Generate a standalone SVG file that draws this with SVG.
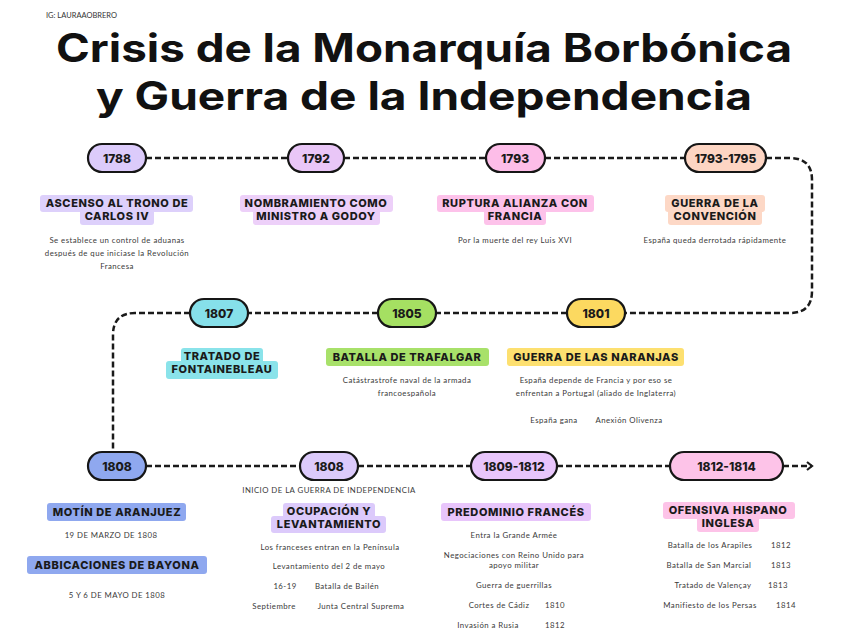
<svg xmlns="http://www.w3.org/2000/svg" width="848" height="636" viewBox="0 0 848 636">
<defs>
<marker id="arr" viewBox="0 0 10 10" refX="8" refY="5" markerWidth="10" markerHeight="10" markerUnits="userSpaceOnUse" orient="auto">
<polyline points="3,1 8,5 3,9" fill="none" stroke="#1a1a1a" stroke-width="2.2"/>
</marker>
<style>
.title{font-family:Inter,"Open Sans",sans-serif;font-weight:700;font-size:39px;fill:#111;text-anchor:middle}
.tag{font-family:Lato,"Open Sans",sans-serif;font-size:7.5px;fill:#333}
.pill{stroke:#161616;stroke-width:2.2}
.yr{font-family:Inter,"Open Sans",sans-serif;font-weight:800;font-size:12px;fill:#1a1a1a;text-anchor:middle}
.lbl{font-family:Inter,"Open Sans",sans-serif;font-weight:800;font-size:11px;letter-spacing:0.6px;fill:#1a1a1a;text-anchor:middle}
.d{font-family:Lato,"Open Sans",sans-serif;font-size:7.8px;letter-spacing:0.45px;fill:#3a3a3a;text-anchor:middle}
.ln{fill:none;stroke:#1a1a1a;stroke-width:2.5;stroke-dasharray:6 3}
</style>
</defs>
<rect width="848" height="636" fill="#fff"/>
<text class="tag" x="46" y="18">IG: LAURAAOBRERO</text>
<text class="title" x="424" y="62" textLength="736" lengthAdjust="spacingAndGlyphs">Crisis de la Monarquía Borbónica</text>
<text class="title" x="424" y="110" textLength="656" lengthAdjust="spacingAndGlyphs">y Guerra de la Independencia</text>

<g id="connectors">
<path class="ln" d="M146,158 H288 M344,158 H486 M545,158 H685 M766,158 H790 Q812,158 812,180 V291 Q812,313 790,313 H625 M567,313 H436 M378,313 H248 M190,313 H135 Q113,313 113,335 V452"/>
<path class="ln" d="M146,466 H300 M358,466 H471 M557,466 H670"/>
<path class="ln" d="M783,466 H812" marker-end="url(#arr)"/>
</g>

<g id="n1788">
<rect class="pill" x="88" y="144" width="58" height="28" rx="14" fill="#dccbfb"/>
<text class="yr" x="117" y="162.5">1788</text>
<rect x="40" y="195" width="153" height="17" rx="3" fill="#ddd0fb"/>
<rect x="80" y="208" width="74" height="17" rx="3" fill="#ddd0fb"/>
<text class="lbl" x="117" y="207">ASCENSO AL TRONO DE</text>
<text class="lbl" x="117" y="220">CARLOS IV</text>
<text class="d" x="117" y="243">Se establece un control de aduanas</text>
<text class="d" x="117" y="256">después de que iniciase la Revolución</text>
<text class="d" x="117" y="269">Francesa</text>
</g>

<g id="n1792">
<rect class="pill" x="288" y="144" width="56" height="28" rx="14" fill="#e9c6f7"/>
<text class="yr" x="316" y="162.5">1792</text>
<rect x="240" y="195" width="153" height="17" rx="3" fill="#edd0f9"/>
<rect x="253" y="208" width="127" height="17" rx="3" fill="#edd0f9"/>
<text class="lbl" x="316" y="207">NOMBRAMIENTO COMO</text>
<text class="lbl" x="316" y="220">MINISTRO A GODOY</text>
</g>

<g id="n1793">
<rect class="pill" x="486" y="144" width="59" height="28" rx="14" fill="#fdbde8"/>
<text class="yr" x="515" y="162.5">1793</text>
<rect x="437" y="195" width="157" height="17" rx="3" fill="#fdc2ea"/>
<rect x="484" y="208" width="62" height="17" rx="3" fill="#fdc2ea"/>
<text class="lbl" x="515" y="207">RUPTURA ALIANZA CON</text>
<text class="lbl" x="515" y="220">FRANCIA</text>
<text class="d" x="515" y="243">Por la muerte del rey Luis XVI</text>
</g>

<g id="n1793-1795">
<rect class="pill" x="685" y="144" width="81" height="28" rx="14" fill="#fdd5c3"/>
<text class="yr" x="725.5" y="162.5">1793-1795</text>
<rect x="665" y="195" width="100" height="17" rx="3" fill="#fdd8c6"/>
<rect x="668" y="208" width="94" height="17" rx="3" fill="#fdd8c6"/>
<text class="lbl" x="715" y="207">GUERRA DE LA</text>
<text class="lbl" x="715" y="220">CONVENCIÓN</text>
<text class="d" x="715" y="243">España queda derrotada rápidamente</text>
</g>

<g id="n1807">
<rect class="pill" x="190" y="299" width="58" height="28" rx="14" fill="#86e0ea"/>
<text class="yr" x="219" y="317.5">1807</text>
<rect x="181" y="348" width="82" height="17" rx="3" fill="#8ae3ea"/>
<rect x="166" y="361" width="112" height="18" rx="3" fill="#8ae3ea"/>
<text class="lbl" x="222" y="360">TRATADO DE</text>
<text class="lbl" x="222" y="373">FONTAINEBLEAU</text>
</g>

<g id="n1805">
<rect class="pill" x="378" y="299" width="58" height="28" rx="14" fill="#a5e062"/>
<text class="yr" x="407" y="317.5">1805</text>
<rect x="326" y="348" width="163" height="18" rx="3" fill="#a8e16a"/>
<text class="lbl" x="407" y="360.5">BATALLA DE TRAFALGAR</text>
<text class="d" x="407" y="383">Catástrastrofe naval de la armada</text>
<text class="d" x="407" y="396">francoespañola</text>
</g>

<g id="n1801">
<rect class="pill" x="567" y="299" width="58" height="28" rx="14" fill="#fcd960"/>
<text class="yr" x="596" y="317.5">1801</text>
<rect x="507" y="348" width="177" height="18" rx="3" fill="#fde070"/>
<text class="lbl" x="596" y="360.5">GUERRA DE LAS NARANJAS</text>
<text class="d" x="596" y="383">España depende de Francia y por eso se</text>
<text class="d" x="596" y="396">enfrentan a Portugal (aliado de Inglaterra)</text>
<text class="d" x="554" y="423">España gana</text>
<text class="d" x="629" y="423">Anexión Olivenza</text>
</g>

<g id="n1808a">
<rect class="pill" x="88" y="452" width="58" height="28" rx="14" fill="#8fa8ef"/>
<text class="yr" x="117" y="470.5">1808</text>
<rect x="47" y="503" width="139" height="18" rx="3" fill="#8fa8ef"/>
<text class="lbl" x="117" y="515.5">MOTÍN DE ARANJUEZ</text>
<text class="d" x="111" y="538">19 DE MARZO DE 1808</text>
<rect x="27" y="556" width="180" height="18" rx="3" fill="#8fa8ef"/>
<text class="lbl" x="117" y="568.5">ABBICACIONES DE BAYONA</text>
<text class="d" x="117" y="598">5 Y 6 DE MAYO DE 1808</text>
</g>

<g id="n1808b">
<rect class="pill" x="300" y="452" width="58" height="28" rx="14" fill="#dccafb"/>
<text class="yr" x="329" y="470.5">1808</text>
<text class="d" x="329" y="493">INICIO DE LA GUERRA DE INDEPENDENCIA</text>
<rect x="283" y="503" width="92" height="17" rx="3" fill="#dccafb"/>
<rect x="271" y="516" width="115" height="17" rx="3" fill="#dccafb"/>
<text class="lbl" x="329" y="515">OCUPACIÓN Y</text>
<text class="lbl" x="329" y="528">LEVANTAMIENTO</text>
<text class="d" x="330" y="550">Los franceses entran en la Península</text>
<text class="d" x="329" y="569">Levantamiento del 2 de mayo</text>
<text class="d" x="285" y="589">16-19</text>
<text class="d" x="347" y="589">Batalla de Bailén</text>
<text class="d" x="274" y="609">Septiembre</text>
<text class="d" x="361" y="609">Junta Central Suprema</text>
</g>

<g id="n1809-1812">
<rect class="pill" x="471" y="452" width="86" height="28" rx="14" fill="#e8c5fb"/>
<text class="yr" x="514" y="470.5">1809-1812</text>
<rect x="441" y="503" width="150" height="18" rx="3" fill="#e8c5fb"/>
<text class="lbl" x="516" y="515.5">PREDOMINIO FRANCÉS</text>
<text class="d" x="514" y="538">Entra la Grande Armée</text>
<text class="d" x="514" y="558">Negociaciones con Reino Unido para</text>
<text class="d" x="514" y="568">apoyo militar</text>
<text class="d" x="514" y="588">Guerra de guerrillas</text>
<text class="d" x="499" y="608">Cortes de Cádiz</text>
<text class="d" x="555" y="608">1810</text>
<text class="d" x="488" y="628">Invasión a Rusia</text>
<text class="d" x="555" y="628">1812</text>
</g>

<g id="n1812-1814">
<rect class="pill" x="670" y="452" width="113" height="28" rx="14" fill="#fdc3e8"/>
<text class="yr" x="726.5" y="470.5">1812-1814</text>
<rect x="663" y="502" width="132" height="17" rx="3" fill="#fdc3e8"/>
<rect x="697" y="515" width="62" height="17" rx="3" fill="#fdc3e8"/>
<text class="lbl" x="728" y="514">OFENSIVA HISPANO</text>
<text class="lbl" x="728" y="527">INGLESA</text>
<text class="d" x="710" y="548">Batalla de los Arapiles</text>
<text class="d" x="781" y="548">1812</text>
<text class="d" x="709" y="568">Batalla de San Marcial</text>
<text class="d" x="781" y="568">1813</text>
<text class="d" x="713" y="588">Tratado de Valençay</text>
<text class="d" x="778" y="588">1813</text>
<text class="d" x="710" y="608">Manifiesto de los Persas</text>
<text class="d" x="786" y="608">1814</text>
</g>
</svg>
